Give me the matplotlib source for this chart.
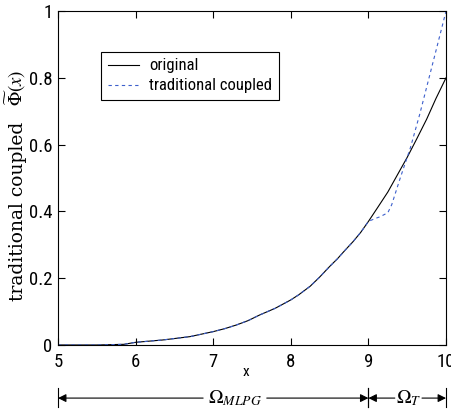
import matplotlib
matplotlib.use("Agg")
import matplotlib.pyplot as plt

# values
x_orig = [5.0, 5.5, 5.85, 6.0, 6.35, 6.7, 7.0, 7.15, 7.3, 7.45, 7.6, 7.8, 8.0, 8.1, 8.25,
          8.37, 8.5, 8.6, 8.7, 8.8, 8.9, 9.0, 9.12, 9.25, 9.37, 9.5, 9.62, 9.75, 9.87, 10.0]
y_orig = [0.0, 0.0, 0.002, 0.008, 0.015, 0.025, 0.04, 0.049, 0.06, 0.073, 0.09, 0.11,
          0.135, 0.15, 0.176, 0.203, 0.235, 0.258, 0.284, 0.309, 0.337, 0.37, 0.412,
          0.458, 0.508, 0.562, 0.616, 0.676, 0.738, 0.8]

x_coup = [5.0, 5.5, 5.85, 6.0, 6.35, 6.7, 7.0, 7.15, 7.3, 7.45, 7.6, 7.8, 8.0, 8.1, 8.25,
          8.37, 8.5, 8.6, 8.7, 8.8, 8.9, 9.0, 9.08, 9.15, 9.25, 9.3, 9.41, 9.54, 9.66,
          9.77, 9.88, 10.0]
y_coup = [0.0, 0.0, 0.002, 0.008, 0.015, 0.025, 0.04, 0.049, 0.06, 0.073, 0.09, 0.11,
          0.135, 0.15, 0.176, 0.203, 0.235, 0.258, 0.284, 0.309, 0.337, 0.37, 0.378,
          0.384, 0.396, 0.42, 0.50, 0.59, 0.69, 0.79, 0.89, 1.0]

xticks = [5, 6, 7, 8, 9, 10]
yticks = [0, 0.2, 0.4, 0.6, 0.8, 1]
ytick_labels = ['0', '0.2', '0.4', '0.6', '0.8', '1']

# sub-domains shown under the axis
regions = [(5, 9, r'$\Omega_{MLPG}$', 6.87, 7.69), (9, 10, r'$\Omega_T$', 9.34, 9.69)]

sans = ['Arial Narrow', 'Liberation Sans Narrow', 'Roboto Condensed', 'PT Sans Narrow',
        'Archivo Narrow', 'Liberation Sans', 'DejaVu Sans']
plt.rcParams['mathtext.fontset'] = 'stix'

fig = plt.figure(figsize=(4.51, 4.17), dpi=100)
ax = fig.add_axes([0.1286, 0.1727, 0.8604, 0.8009])

ax.plot(x_orig, y_orig, color='black', lw=0.8, label='original')
ax.plot(x_coup, y_coup, color='#3c5fcc', lw=0.8, ls=(0, (3, 3)), label='traditional coupled')

ax.set_xlim(5, 10)
ax.set_ylim(0, 1)
ax.set_xticks(xticks)
ax.set_xticklabels([str(t) for t in xticks], family=sans, fontsize=13.5)
ax.set_yticks(yticks)
ax.set_yticklabels(ytick_labels, family=sans, fontsize=13.5)
ax.tick_params(direction='in', length=5, top=True, right=True, width=0.8)
ax.tick_params(axis='x', pad=6)
ax.tick_params(axis='y', pad=4)
for s in ax.spines.values():
    s.set_linewidth(0.8)

# y label in two pieces so the symbol can be bigger than the words
fig.text(0.04, 0.493, 'traditional coupled', rotation=90, ha='center', va='center',
         family='DejaVu Serif', fontsize=13.5)
fig.text(0.036, 0.79, r'$\widetilde{\Phi}(x)$', rotation=90, ha='center', va='center',
         fontsize=13.5)
ax.text(0.485, -0.08, 'x', transform=ax.transAxes, ha='center', va='center',
        family=sans, fontsize=11)

leg = ax.legend(loc='upper left', bbox_to_anchor=(0.111, 0.878), borderaxespad=0,
                prop={'family': sans, 'size': 12}, fancybox=False, framealpha=1,
                edgecolor='black', handlelength=1.9, borderpad=0.4, labelspacing=0.3,
                handletextpad=0.6)
leg.get_frame().set_linewidth(0.8)

tr = ax.get_xaxis_transform()
ya = -0.159
for x0, x1, lab, g0, g1 in regions:
    for xb in (x0, x1):
        ax.plot([xb, xb], [-0.129, -0.186], transform=tr, color='black', lw=0.8,
                clip_on=False)
    ax.text((g0 + g1) / 2, ya, lab, transform=tr, ha='center', va='center', fontsize=14)
    ax.annotate('', xy=(x0, ya), xytext=(g0, ya), xycoords=tr, textcoords=tr,
                arrowprops=dict(arrowstyle='-|>', color='black', lw=0.8,
                                mutation_scale=12, shrinkA=0, shrinkB=0))
    ax.annotate('', xy=(x1, ya), xytext=(g1, ya), xycoords=tr, textcoords=tr,
                arrowprops=dict(arrowstyle='-|>', color='black', lw=0.8,
                                mutation_scale=12, shrinkA=0, shrinkB=0))

fig.savefig('out.png', dpi=100)
